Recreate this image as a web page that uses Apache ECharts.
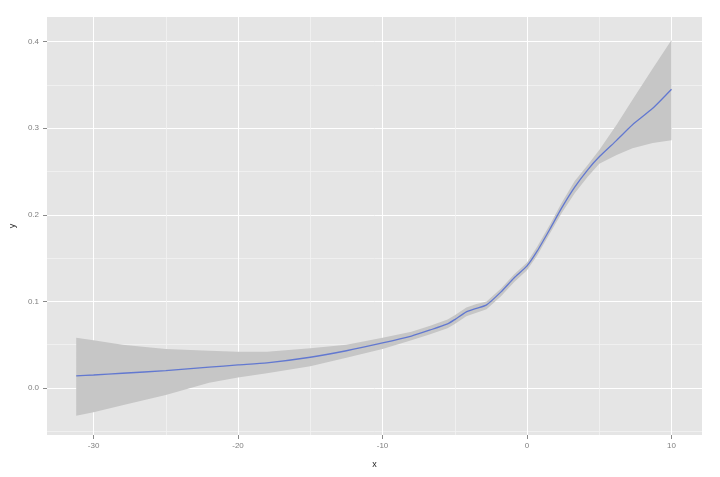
<!DOCTYPE html>
<html>
<head>
<meta charset="utf-8">
<script src="https://cdn.jsdelivr.net/npm/echarts@6/dist/echarts.min.js"></script>
<style>
html,body{margin:0;padding:0;background:#fff;}
#c{width:720px;height:477px;}
</style>
</head>
<body>
<div id="c"></div>
<script>
// x positions of the smoothed fit
var xs     = [-31.2, -30, -28, -25, -22, -20, -18, -15, -12.5, -10, -8, -6.7, -5.5, -5, -4.2, -3.5, -2.8, -1.8, -0.9, 0, 0.7, 1.6, 2.4, 3.3, 4.2, 5, 6.2, 7.3, 8.7, 10];
// fitted values
var fitY   = [0.014, 0.015, 0.017, 0.020, 0.024, 0.0266, 0.029, 0.0355, 0.043, 0.052, 0.060, 0.067, 0.074, 0.079, 0.088, 0.092, 0.096, 0.111, 0.127, 0.141, 0.158, 0.184, 0.208, 0.232, 0.252, 0.267, 0.286, 0.304, 0.323, 0.345];
// confidence band
var lowerY = [-0.032, -0.028, -0.020, -0.008, 0.006, 0.012, 0.017, 0.025, 0.035, 0.045, 0.055, 0.062, 0.069, 0.074, 0.083, 0.087, 0.091, 0.106, 0.122, 0.136, 0.153, 0.179, 0.202, 0.225, 0.244, 0.259, 0.269, 0.277, 0.283, 0.286];
var upperY = [0.058, 0.055, 0.050, 0.045, 0.043, 0.042, 0.042, 0.046, 0.050, 0.058, 0.065, 0.072, 0.079, 0.084, 0.093, 0.097, 0.100, 0.115, 0.131, 0.145, 0.163, 0.189, 0.214, 0.239, 0.2575, 0.275, 0.304, 0.333, 0.369, 0.402];
// tick labels
var xTicks = [-30, -20, -10, 0, 10];
var yTicks = [0, 0.1, 0.2, 0.3, 0.4];

var chart = echarts.init(document.getElementById('c'), null, {renderer: 'canvas'});
var labelColor = '#808080';
var font = 'Liberation Sans, Arial, sans-serif';

chart.setOption({
  animation: false,
  backgroundColor: '#ffffff',
  grid: {left: 47, right: 18, top: 17, bottom: 42, show: true, backgroundColor: '#e5e5e5', borderWidth: 0},
  xAxis: {
    type: 'value',
    min: -33.22, max: 12.11,
    splitNumber: 5,
    name: 'x', nameLocation: 'middle', nameGap: 25,
    nameTextStyle: {color: '#222', fontSize: 9, fontFamily: font},
    axisLine: {show: false, onZero: false},
    axisTick: {show: true, customValues: xTicks, length: 4, lineStyle: {color: '#8a8a8a', width: 1}},
    axisLabel: {customValues: xTicks, color: labelColor, fontSize: 8, fontFamily: font, margin: 7},
    minorTick: {show: false, splitNumber: 2},
    minorSplitLine: {show: true, lineStyle: {color: '#f2f2f2', width: 0.8}},
    splitLine: {show: true, lineStyle: {color: '#ffffff', width: 1}}
  },
  yAxis: {
    type: 'value',
    min: -0.0543, max: 0.4285,
    splitNumber: 5,
    name: 'y', nameLocation: 'middle', nameGap: 26, nameRotate: 90,
    nameTextStyle: {color: '#222', fontSize: 9, fontFamily: font},
    axisLine: {show: false, onZero: false},
    axisTick: {show: true, customValues: yTicks, length: 4, lineStyle: {color: '#8a8a8a', width: 1}},
    axisLabel: {customValues: yTicks, color: labelColor, fontSize: 8, fontFamily: font, margin: 8,
      formatter: function (v) { return v.toFixed(1); }},
    minorTick: {show: false, splitNumber: 2},
    minorSplitLine: {show: true, lineStyle: {color: '#f2f2f2', width: 0.8}},
    splitLine: {show: true, lineStyle: {color: '#ffffff', width: 1}}
  },
  series: [
    {
      type: 'custom', silent: true,
      data: xs.map(function (x, i) { return [x, lowerY[i], upperY[i]]; }),
      encode: {x: 0, y: [1, 2]},
      renderItem: function (params, api) {
        if (params.dataIndex !== 0) return null;
        var pts = [], i;
        for (i = 0; i < xs.length; i++) pts.push(api.coord([xs[i], upperY[i]]));
        for (i = xs.length - 1; i >= 0; i--) pts.push(api.coord([xs[i], lowerY[i]]));
        return {type: 'polygon', shape: {points: pts}, style: {fill: '#c6c6c6'}};
      }
    },
    {
      type: 'line', symbol: 'none', smooth: 0.2,
      lineStyle: {color: '#6278d0', width: 1.3},
      data: xs.map(function (x, i) { return [x, fitY[i]]; })
    }
  ]
});
</script>
</body>
</html>
